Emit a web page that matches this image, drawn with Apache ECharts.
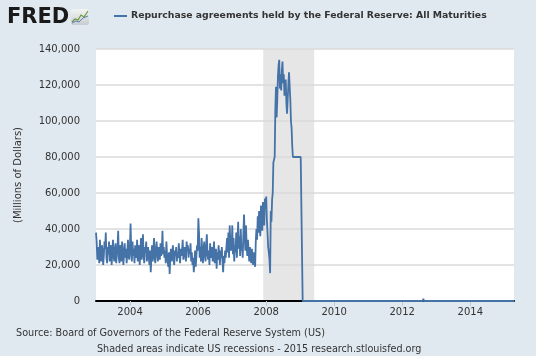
<!DOCTYPE html>
<html><head><meta charset="utf-8">
<script src="https://cdn.jsdelivr.net/npm/echarts@6/dist/echarts.min.js"></script>
<style>html,body{margin:0;padding:0;background:#e1e9f0;}#c{width:536px;height:356px;}</style>
</head><body><div id="c"></div>
<script>
// Weekly observations (thousands of millions of dollars), starting Wed 2003-01-01
const firstWeek = '2003-01-01';
const v2003 = [38,33,23,30,27,21,34,26,22,31, 28,20,25,33,29,38,24,21,30,26, 33,22,28,31,20,27,34,25,22,29, 32,21,26,30,39,24,21,31,27,22, 33,28,20,26,32,24,29,21,27,34, 25,23];
const v2004 = [30,43,27,22,33,25,29,21,31,26, 24,34,22,28,31,20,27,35,23,29, 37,25,21,30,27,33,22,26,30,24, 20,28,16,25,31,22,27,35,24,21, 29,33,26,22,30,27,23,32,25,28, 39,26];
const v2005 = [30,24,28,21,33,26,22,19,27,15, 24,29,22,26,31,23,20,28,25,30, 22,27,24,32,26,21,29,25,28,34, 23,27,30,25,22,33,28,31,24,29, 26,32,22,27,20,24,16,22,28,19, 25,31];
const v2006 = [28,46,38,24,30,22,35,27,21,29, 33,25,22,31,37,26,23,28,20,32, 27,24,30,22,26,33,21,25,29,18, 27,23,31,26,20,28,24,30,22,16, 25,21,28,24,30,35,27,38,24,42, 33,28];
const v2007 = [30,42,26,35,22,31,27,38,24,33, 44,29,36,25,40,28,30,24,38,48, 36,28,42,31,25,34,28,22,30,26, 21,29,24,20,27,22,19,33,40,34, 47,38,50,42,36,53,45,39,55,48, 42,57];
const v2008 = [52,58,45,38,30,27,23,15.5,50,44, 56,60,77,76,80,106,119,102,112,125, 131,134,118,126,117,128,133,121,126,114, 119,123,110,104,112,120,127,126,112,100, 96,86,80,80,80,80,80,80,80,80, 80,80];
const v2009 = [80,80,80,80,80,0];
// Later observations (sparse, the series stays at zero)
const laterDates = ['2009-06-03','2012-08-08','2012-08-15','2012-08-22','2015-04-15'];
const laterValues = [0,0,1.2,0,0];
const UNIT = 1000;
// Axis
const xTickYears = [2004,2006,2008,2010,2012,2014];
const recession = ['2007-12-01','2009-06-01'];
const titleText = 'Repurchase agreements held by the Federal Reserve: All Maturities';

const DAY = 86400000;
function utc(s){const p=s.split('-');return Date.UTC(+p[0],+p[1]-1,+p[2]);}
// convert a timestamp to a decimal year
function decYear(t){const y=new Date(t).getUTCFullYear();const a=Date.UTC(y,0,1),b=Date.UTC(y+1,0,1);return y+(t-a)/(b-a);}
const weekly = [].concat(v2003,v2004,v2005,v2006,v2007,v2008,v2009);
const t0 = utc(firstWeek);
const data = weekly.map((v,i)=>[decYear(t0+i*7*DAY), v*UNIT]);
laterDates.forEach((d,i)=>data.push([decYear(utc(d)), laterValues[i]*UNIT]));

const font = '"DejaVu Sans", Verdana, sans-serif';
const chart = echarts.init(document.getElementById('c'));
chart.setOption({
  backgroundColor:'#e1e9f0',
  animation:false,
  grid:{left:96,right:22,top:49,bottom:55,show:true,backgroundColor:'#ffffff',borderWidth:0},
  xAxis:{type:'value',min:2003,max:decYear(utc('2015-04-15')),z:2,
    axisLine:{show:true,onZero:false,lineStyle:{color:'#000',width:2}},
    axisTick:{show:true,customValues:xTickYears,length:5,lineStyle:{color:'#c0ccd8',width:1}},
    axisLabel:{customValues:xTickYears,formatter:v=>String(Math.round(v)),color:'#333',fontFamily:font,fontSize:10,margin:6},
    splitLine:{show:false}},
  yAxis:{type:'value',min:0,max:140000,interval:20000,z:2,
    name:'(Millions of Dollars)',nameLocation:'middle',nameRotate:90,nameGap:73,
    nameTextStyle:{color:'#333',fontFamily:font,fontSize:10},
    axisLine:{show:false},axisTick:{show:false},
    axisLabel:{formatter:v=>v.toLocaleString('en-US'),color:'#333',fontFamily:font,fontSize:10,margin:16},
    splitLine:{show:true,lineStyle:{color:'#dadada',width:1.5}}},
  series:[
    {type:'line',data:[],z:1,silent:true,
      markArea:{silent:true,itemStyle:{color:'#e6e6e6'},data:[[{xAxis:decYear(utc(recession[0]))},{xAxis:decYear(utc(recession[1]))}]]}},
    {type:'line',data:data,z:3,showSymbol:false,symbol:'none',
      lineStyle:{color:'#4572a7',width:1.8},itemStyle:{color:'#4572a7'}}
  ],
  graphic:[
    {type:'text',x:7,y:18,style:{text:'FRED',font:'bold 21px "DejaVu Sans"',fill:'#1a1a1a',verticalAlign:'middle'}},
    {type:'rect',shape:{x:71,y:9,width:18,height:16,r:2},style:{fill:new echarts.graphic.LinearGradient(0,0,0,1,[{offset:0,color:'#f4f4f4'},{offset:1,color:'#c8ccd0'}])}},
    {type:'polyline',shape:{points:[[72,22],[75,19],[78,20],[81,15],[84,17],[88,11]]},style:{stroke:'#6a9a3a',lineWidth:1.2,fill:null}},
    {type:'polyline',shape:{points:[[72,23],[76,21],[79,22],[83,18],[88,16]]},style:{stroke:'#5a7fb0',lineWidth:1,fill:null}},
    {type:'line',shape:{x1:114,y1:16,x2:127,y2:16},style:{stroke:'#4572a7',lineWidth:2}},
    {type:'text',x:131,y:16,style:{text:titleText,font:'bold 9.3px "DejaVu Sans"',fill:'#333',verticalAlign:'middle'}},
    {type:'text',x:16,y:333,style:{text:'Source: Board of Governors of the Federal Reserve System (US)',font:'9.7px "DejaVu Sans"',fill:'#333',verticalAlign:'middle'}},
    {type:'text',x:97,y:349,style:{text:'Shaded areas indicate US recessions - 2015 research.stlouisfed.org',font:'9.65px "DejaVu Sans"',fill:'#333',verticalAlign:'middle'}}
  ]
});
</script></body></html>
